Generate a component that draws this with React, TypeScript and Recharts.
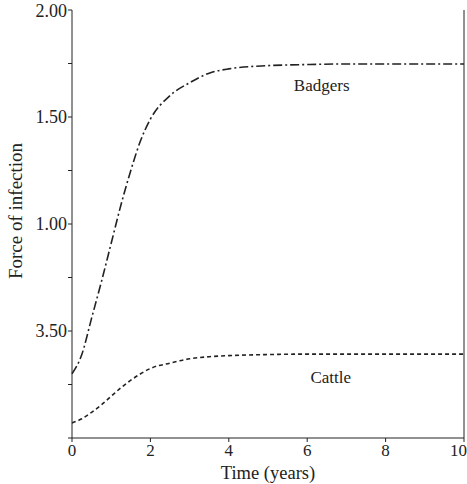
import { LineChart, Line, XAxis, YAxis, ReferenceDot } from 'recharts';

const times = [0, 0.25, 0.5, 0.75, 1, 1.25, 1.5, 1.75, 2, 2.5, 3, 3.5, 4, 5, 6, 7, 8, 9, 10];
const badgers = [0.3, 0.39, 0.56, 0.73, 0.91, 1.09, 1.25, 1.39, 1.49, 1.6, 1.66, 1.705, 1.725, 1.74, 1.745, 1.748, 1.748, 1.748, 1.748];
const cattle = [0.07, 0.09, 0.12, 0.155, 0.195, 0.235, 0.27, 0.3, 0.325, 0.35, 0.37, 0.38, 0.385, 0.39, 0.392, 0.392, 0.392, 0.392, 0.392];

const xTicks = [0, 2, 4, 6, 8, 10];
const yTicks = [0, 0.25, 0.5, 0.75, 1, 1.25, 1.5, 1.75, 2];
const yTickLabels: Record<string, string> = { '0.5': '3.50', '1': '1.00', '1.5': '1.50', '2': '2.00' };

const data = times.map((t, i) => ({ t, badgers: badgers[i], cattle: cattle[i] }));

const FONT = '"Liberation Serif", "DejaVu Serif", serif';
const INK = '#222';

export default function App() {
  return (
    <div style={{ position: 'absolute', left: 0, top: 0, background: '#fff' }}>
      <LineChart width={467} height={484} data={data} margin={{ top: 10, right: 3, left: 0, bottom: 0 }}>
        <XAxis
          dataKey="t"
          type="number"
          domain={[0, 10]}
          ticks={xTicks}
          tickSize={4}
          tickMargin={2}
          height={46}
          stroke={INK}
          tick={{ fill: INK, fontSize: 17, fontFamily: FONT }}
          label={{ value: 'Time (years)', position: 'insideBottom', offset: 5, fill: INK, fontSize: 18.5, fontFamily: FONT }}
        />
        <YAxis
          yAxisId="left"
          type="number"
          domain={[0, 2]}
          ticks={yTicks}
          tickSize={4}
          tickMargin={1}
          width={72}
          stroke={INK}
          tickFormatter={(v: number) => yTickLabels[String(v)] ?? ''}
          tick={{ fill: INK, fontSize: 18, fontFamily: FONT }}
          label={{ value: 'Force of infection', angle: -90, position: 'insideLeft', offset: 15, dy: -13, fill: INK, fontSize: 19, fontFamily: FONT, style: { textAnchor: 'middle' } }}
        />
        <YAxis
          yAxisId="right"
          orientation="right"
          mirror
          type="number"
          domain={[0, 2]}
          ticks={yTicks}
          tickSize={4}
          width={1}
          stroke={INK}
          tickFormatter={() => ''}
        />
        <Line yAxisId="left" dataKey="badgers" type="monotone" stroke={INK} strokeWidth={1.6} strokeDasharray="9 3 2 3" dot={false} isAnimationActive={false} />
        <Line yAxisId="left" dataKey="cattle" type="monotone" stroke={INK} strokeWidth={1.6} strokeDasharray="4 3" dot={false} isAnimationActive={false} />
        <ReferenceDot yAxisId="left" x={6.37} y={1.65} r={0} label={{ value: 'Badgers', position: 'center', fill: INK, fontSize: 17, fontFamily: FONT }} />
        <ReferenceDot yAxisId="left" x={6.6} y={0.285} r={0} label={{ value: 'Cattle', position: 'center', fill: INK, fontSize: 17, fontFamily: FONT }} />
      </LineChart>
    </div>
  );
}
